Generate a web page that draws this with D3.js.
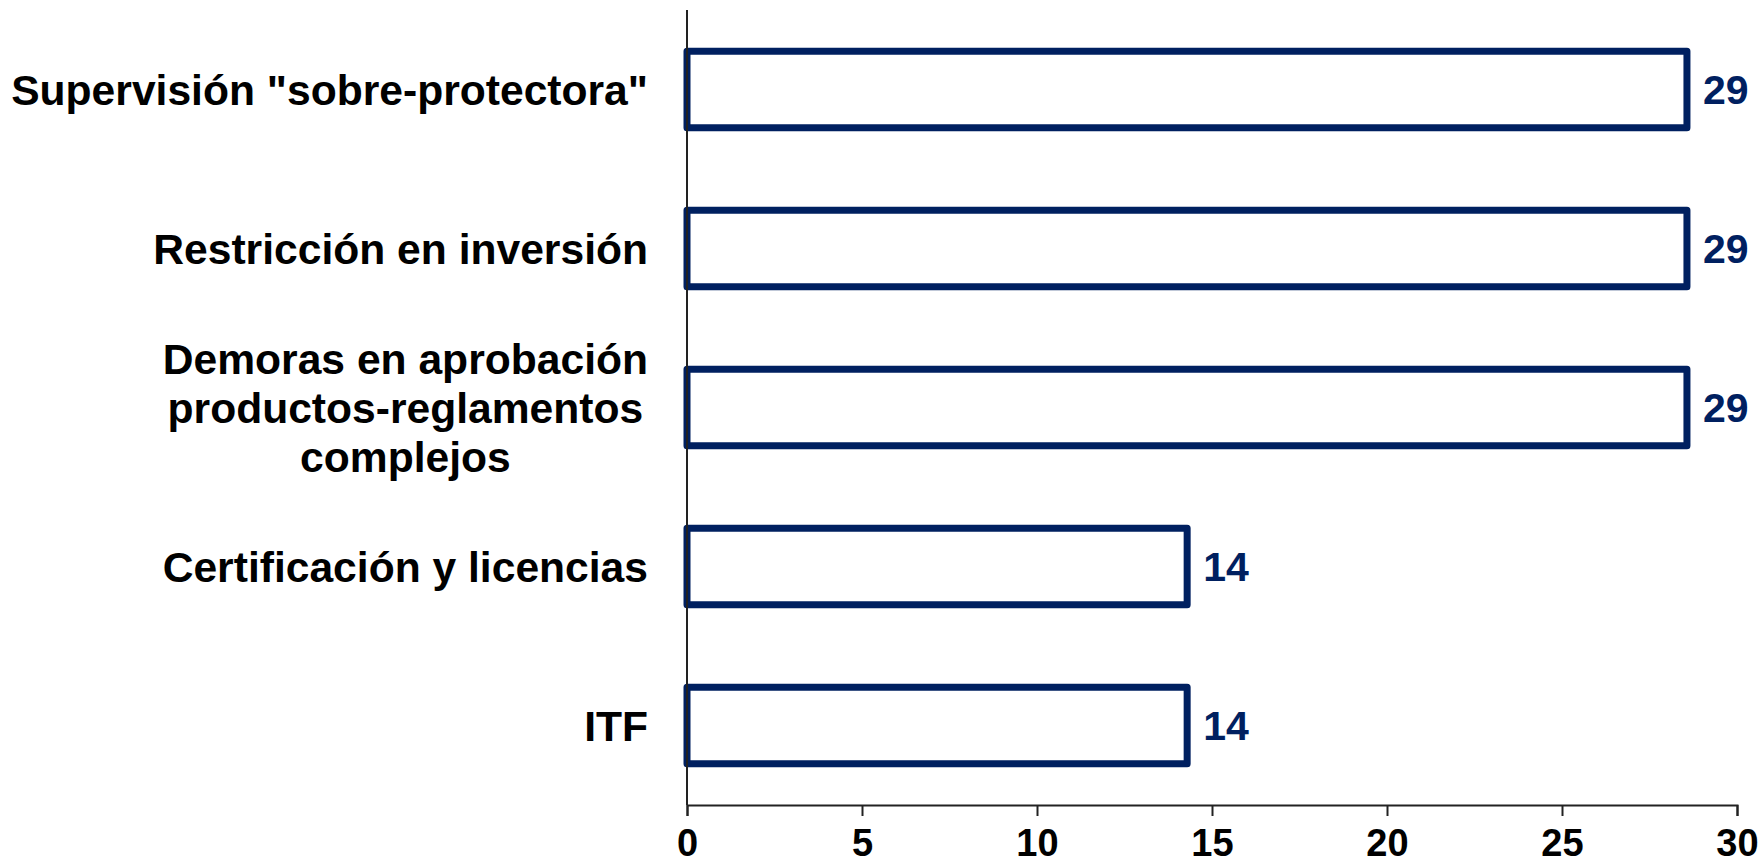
<!DOCTYPE html>
<html>
<head>
<meta charset="utf-8">
<script src="https://cdn.jsdelivr.net/npm/d3@7"></script>
<style>
  html, body { margin: 0; padding: 0; background: #ffffff; }
  svg { display: block; font-family: "Liberation Sans", Arial, sans-serif; }
</style>
</head>
<body>
<svg id="chart" width="1762" height="865"></svg>
<script>
// Categories (top to bottom), label lines, and percentage values
const categories = [
  "Supervisión \"sobre-protectora\"",
  "Restricción en inversión",
  "Demoras en aprobación productos-reglamentos complejos",
  "Certificación y licencias",
  "ITF"
];
const categoryLines = [
  ["Supervisión \"sobre-protectora\""],
  ["Restricción en inversión"],
  ["Demoras en aprobación", "productos-reglamentos", "complejos"],
  ["Certificación y licencias"],
  ["ITF"]
];
const values = [28.57, 28.57, 28.57, 14.29, 14.29];
const xTicks = [0, 5, 10, 15, 20, 25, 30];

const navy = "#002060";
const svg = d3.select("#chart");
const margin = { left: 687, right: 25, top: 10, bottom: 60 };
const W = 1762, H = 865;

const x = d3.scaleLinear().domain([0, 30]).range([margin.left, W - margin.right]);
const y = d3.scaleBand().domain(categories).range([margin.top, H - margin.bottom]).paddingInner(0.52).paddingOuter(0.26);

const data = categories.map((c, i) => ({ cat: c, lines: categoryLines[i], value: values[i] }));

// Bars: white fill with thick navy outline
svg.append("g").selectAll("rect").data(data).join("rect")
  .attr("x", x(0))
  .attr("y", d => y(d.cat))
  .attr("width", d => x(d.value) - x(0))
  .attr("height", y.bandwidth())
  .attr("fill", "#ffffff")
  .attr("stroke", navy)
  .attr("stroke-width", 7)
  .attr("stroke-linejoin", "round");

// Value labels at the end of each bar
svg.append("g").selectAll("text").data(data).join("text")
  .attr("x", d => x(d.value) + 16)
  .attr("y", d => y(d.cat) + y.bandwidth() / 2)
  .attr("dy", "0.36em")
  .attr("fill", navy)
  .attr("font-size", 41)
  .attr("font-weight", "bold")
  .text(d => d3.format(".0f")(d.value));

// Bottom axis
const xAxis = svg.append("g")
  .attr("transform", `translate(0,${H - margin.bottom})`)
  .call(d3.axisBottom(x).tickValues(xTicks).tickSize(11).tickSizeOuter(11).tickPadding(13).tickFormat(d3.format("d")));
xAxis.select(".domain").attr("stroke", "#222").attr("stroke-width", 2);
xAxis.selectAll(".tick line").attr("stroke", "#222").attr("stroke-width", 2);
xAxis.selectAll(".tick text")
  .attr("fill", "#000")
  .attr("font-size", 38)
  .attr("font-weight", "bold")
  .attr("font-family", "'Liberation Sans', Arial, sans-serif");

// Vertical category axis line (no ticks)
svg.append("line")
  .attr("x1", x(0)).attr("x2", x(0))
  .attr("y1", margin.top).attr("y2", H - margin.bottom)
  .attr("stroke", "#222").attr("stroke-width", 2);

// Category labels: multi-line blocks are centred within themselves and right-aligned to the axis
const labelRight = x(0) - 39;
const lineH = 49;
const labels = svg.append("g").selectAll("text").data(data).join("text")
  .attr("font-size", 42.6)
  .attr("font-weight", "bold")
  .attr("fill", "#000")
  .attr("text-anchor", "middle");

labels.each(function(d) {
  const t = d3.select(this);
  const n = d.lines.length;
  const cy = y(d.cat) + y.bandwidth() / 2;
  d.lines.forEach((ln, i) => {
    t.append("tspan")
      .attr("y", cy + (i - (n - 1) / 2) * lineH)
      .attr("dy", "0.36em")
      .text(ln);
  });
  let maxW = 0;
  t.selectAll("tspan").each(function() { maxW = Math.max(maxW, this.getComputedTextLength()); });
  t.selectAll("tspan").attr("x", labelRight - maxW / 2);
});
</script>
</body>
</html>
